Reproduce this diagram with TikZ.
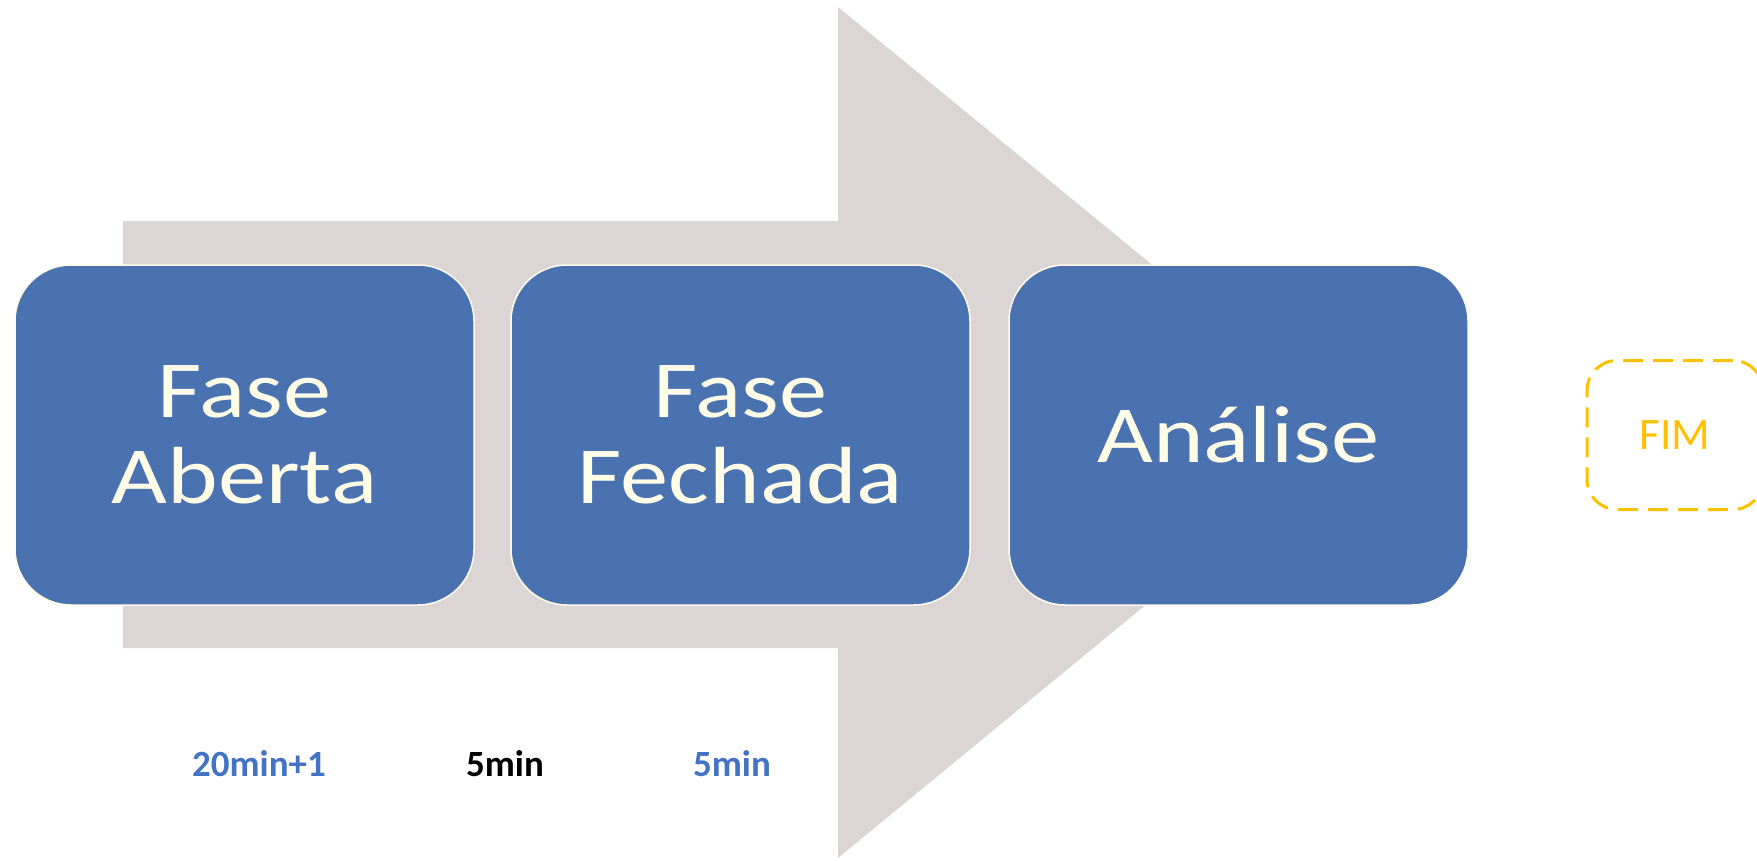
\documentclass[tikz,border=0pt]{standalone}
\usepackage{fontspec}
\setmainfont{Carlito}
\newfontfamily\boxfont[FakeStretch=1.19]{Carlito}
\definecolor{arrowgray}{RGB}{220,213,214}
\definecolor{boxblue}{RGB}{74,114,176}
\definecolor{cream}{RGB}{255,253,232}
\definecolor{labelblue}{RGB}{68,114,196}
\definecolor{fimgold}{RGB}{255,192,0}
\begin{document}
\begin{tikzpicture}[x=1pt,y=-1pt,
  phase/.style={draw=cream, line width=1.5pt, fill=boxblue, rounded corners=56pt,
    minimum width=459pt, minimum height=340pt, inner sep=0pt, text=cream,
    font=\boxfont\fontsize{81}{86}\selectfont, align=center},
  fimbox/.style={draw=fimgold, line width=3pt, dash pattern=on 20pt off 10pt,
    rounded corners=30pt, minimum width=176pt, minimum height=149pt,
    text=fimgold, font=\fontsize{45}{50}\selectfont},
  timelabel/.style={font=\bfseries\fontsize{37}{40}\selectfont, anchor=base}]
\useasboundingbox (0,0) rectangle (1757,860);
\fill[arrowgray] (123,221) -- (838,221) -- (838,7) -- (1356,432) -- (838,858) -- (838,648) -- (123,648) -- cycle;
\node[phase] (aberta) at (244.5,435) {Fase\\Aberta};
\node[phase] (fechada) at (740.5,435) {Fase\\Fechada};
\node[phase] (analise) at (1238.5,435) {Análise};
\node[fimbox] (fim) at (1675,435) {FIM};
\node[timelabel, text=labelblue] (t1) at (259,776) {20min+1};
\node[timelabel, text=black] (t2) at (505,776) {5min};
\node[timelabel, text=labelblue] (t3) at (732,776) {5min};
\end{tikzpicture}
\end{document}
